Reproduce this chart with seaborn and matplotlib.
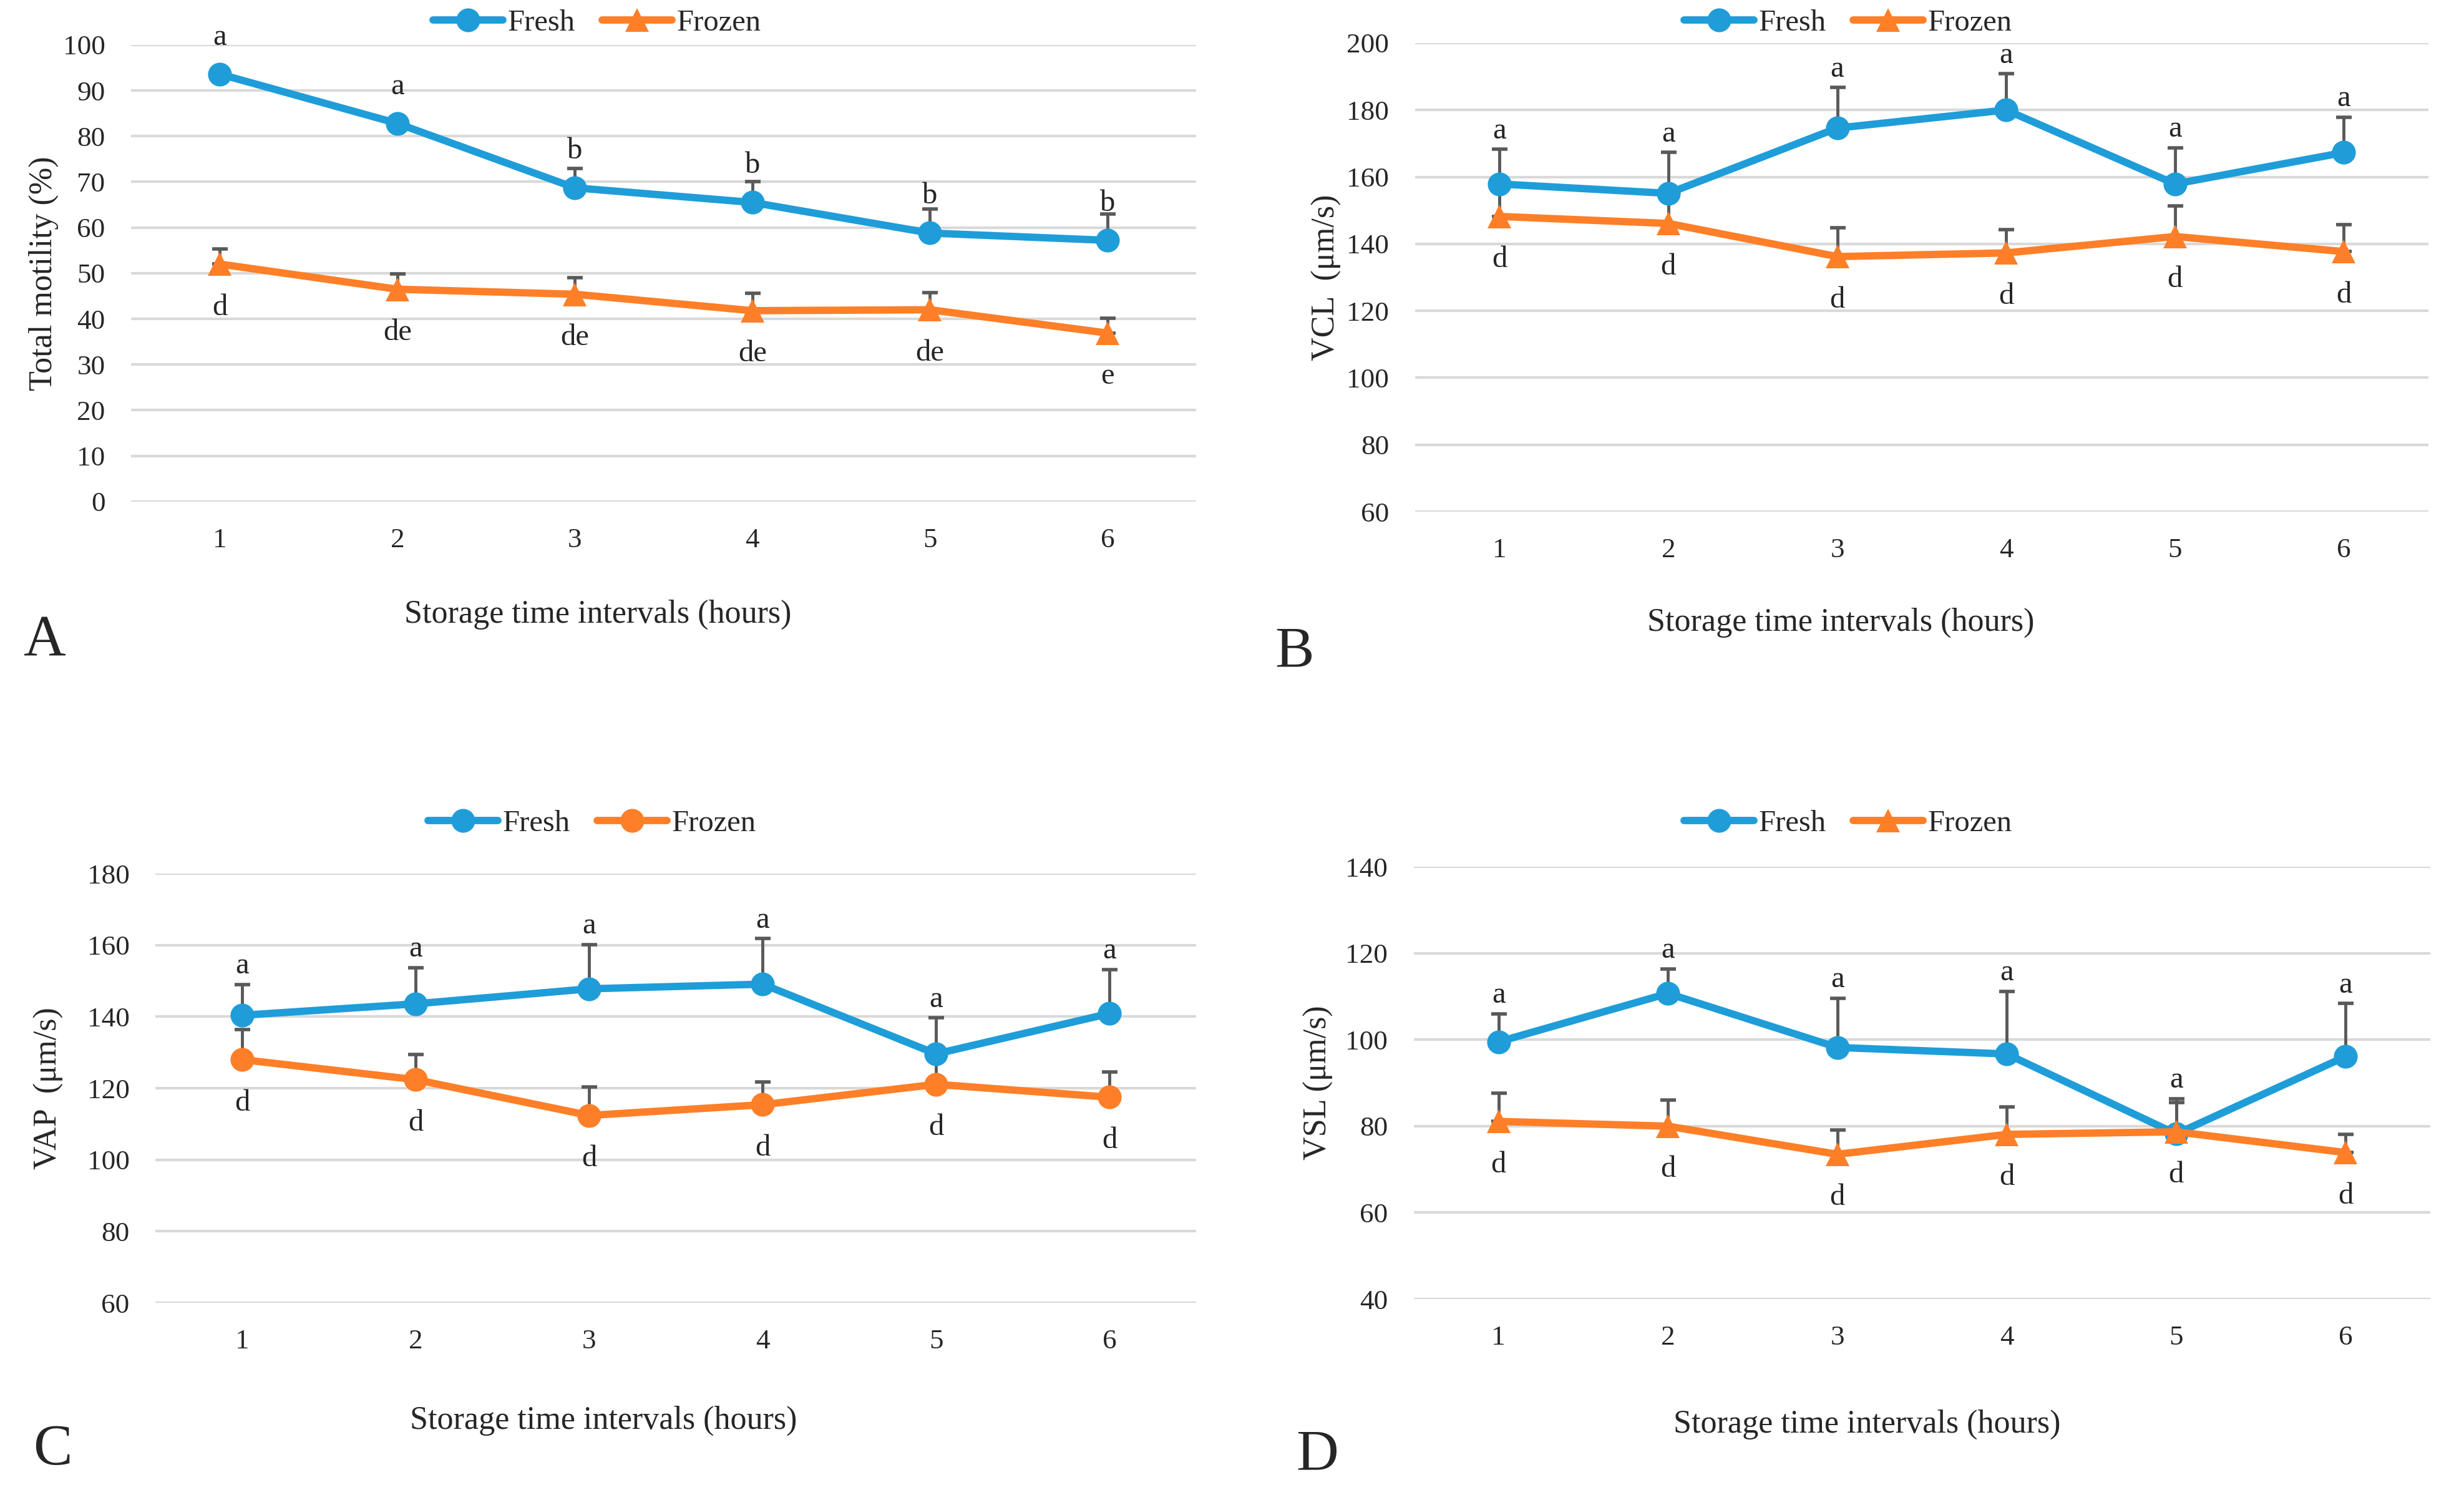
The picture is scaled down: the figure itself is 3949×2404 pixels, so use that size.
import numpy as np
import pandas as pd
import matplotlib.pyplot as plt
import seaborn as sns

# Data: means and upper error bars per storage hour
hours = [1, 2, 3, 4, 5, 6]

motility_fresh = [93.6, 82.8, 68.7, 65.5, 58.8, 57.2]
motility_fresh_err = [1.2, 1.2, 4.2, 4.6, 5.2, 5.7]
motility_frozen = [52.0, 46.5, 45.4, 41.8, 42.0, 36.9]
motility_frozen_err = [3.3, 3.3, 3.6, 3.8, 3.8, 3.3]
motility_fresh_letters = ['a', 'a', 'b', 'b', 'b', 'b']
motility_frozen_letters = ['d', 'de', 'de', 'de', 'de', 'e']

vcl_fresh = [157.9, 155.1, 174.6, 180.0, 157.9, 167.3]
vcl_fresh_err = [10.4, 12.2, 12.1, 10.8, 10.8, 10.6]
vcl_frozen = [148.2, 146.1, 136.2, 137.3, 142.2, 137.7]
vcl_frozen_err = [8.3, 7.9, 8.6, 7.0, 9.1, 8.1]

vap_fresh = [140.4, 143.6, 147.8, 149.1, 129.6, 140.9]
vap_fresh_err = [8.6, 10.1, 12.4, 12.7, 10.1, 12.3]
vap_frozen = [128.0, 122.4, 112.4, 115.4, 121.1, 117.5]
vap_frozen_err = [8.4, 7.1, 8.0, 6.4, 8.0, 7.1]

vsl_fresh = [99.5, 110.7, 98.2, 96.7, 78.2, 96.1]
vsl_fresh_err = [6.5, 5.7, 11.4, 14.5, 8.2, 12.3]
vsl_frozen = [81.1, 80.0, 73.5, 78.1, 78.7, 73.9]
vsl_frozen_err = [6.6, 6.1, 5.6, 6.4, 6.8, 4.2]

velocity_fresh_letters = ['a'] * 6
velocity_frozen_letters = ['d'] * 6

# Style
sns.set_theme(style='white')
plt.rcParams['font.family'] = ['Liberation Serif', 'DejaVu Serif']

blue = '#1F9DD9'
orange = '#FE7F28'
err_color = '#595959'
grid_color = '#D9D9D9'

panels = [
    dict(letter='A', rect=[0.0532, 0.6656, 0.4323, 0.3045],
         fresh=motility_fresh, fresh_err=motility_fresh_err,
         frozen=motility_frozen, frozen_err=motility_frozen_err,
         fresh_letters=motility_fresh_letters, frozen_letters=motility_frozen_letters,
         ylabel='Total motility (%)', yticks=np.arange(0, 101, 10), frozen_marker='^',
         label_from_value=True, legend_xy=(0.2423, 0.9846), xlabel_xy=(0.2426, 0.5903),
         ylabel_xy=(0.0177, 0.8178), letter_xy=(0.0094, 0.5724)),
    dict(letter='B', rect=[0.5743, 0.6589, 0.4112, 0.3124],
         fresh=vcl_fresh, fresh_err=vcl_fresh_err,
         frozen=vcl_frozen, frozen_err=vcl_frozen_err,
         fresh_letters=velocity_fresh_letters, frozen_letters=velocity_frozen_letters,
         ylabel='VCL  (μm/s)', yticks=np.arange(60, 201, 20), frozen_marker='^',
         label_from_value=False, legend_xy=(0.750, 0.9846), xlabel_xy=(0.747, 0.5849),
         ylabel_xy=(0.5384, 0.8149), letter_xy=(0.5173, 0.5649)),
    dict(letter='C', rect=[0.0631, 0.1314, 0.4224, 0.2862],
         fresh=vap_fresh, fresh_err=vap_fresh_err,
         frozen=vap_frozen, frozen_err=vap_frozen_err,
         fresh_letters=velocity_fresh_letters, frozen_letters=velocity_frozen_letters,
         ylabel='VAP  (μm/s)', yticks=np.arange(60, 181, 20), frozen_marker='o',
         label_from_value=False, legend_xy=(0.2403, 0.4509), xlabel_xy=(0.2449, 0.0528),
         ylabel_xy=(0.0198, 0.2745), letter_xy=(0.0134, 0.0329)),
    dict(letter='D', rect=[0.5738, 0.1339, 0.4125, 0.2883],
         fresh=vsl_fresh, fresh_err=vsl_fresh_err,
         frozen=vsl_frozen, frozen_err=vsl_frozen_err,
         fresh_letters=velocity_fresh_letters, frozen_letters=velocity_frozen_letters,
         ylabel='VSL (μm/s)', yticks=np.arange(40, 141, 20), frozen_marker='^',
         label_from_value=False, legend_xy=(0.750, 0.4509), xlabel_xy=(0.7577, 0.0503),
         ylabel_xy=(0.5351, 0.2783), letter_xy=(0.526, 0.0295)),
]

fig = plt.figure(figsize=(15.796, 9.616), dpi=250)

for p in panels:
    ax = fig.add_axes(p['rect'])

    df = pd.DataFrame({
        'Hour': hours + hours,
        'Value': p['fresh'] + p['frozen'],
        'Group': ['Fresh'] * len(hours) + ['Frozen'] * len(hours),
    })
    sns.lineplot(data=df, x='Hour', y='Value', hue='Group', style='Group',
                 palette={'Fresh': blue, 'Frozen': orange},
                 markers={'Fresh': 'o', 'Frozen': p['frozen_marker']}, dashes=False,
                 errorbar=None, legend=False, ax=ax)
    handles = list(ax.get_lines())[:2]
    for line in handles:
        line.set_linewidth(3.4)
        line.set_markersize(11)
        line.set_markeredgewidth(0)

    # upper error bars only, drawn behind the lines
    zeros = np.zeros(len(hours))
    for vals, errs in [(p['fresh'], p['fresh_err']), (p['frozen'], p['frozen_err'])]:
        ax.errorbar(hours, vals, yerr=[zeros, errs], fmt='none', ecolor=err_color,
                    elinewidth=1.4, capsize=3.6, capthick=1.6, zorder=1.5)

    # significance letters
    for h, v, e, t in zip(hours, p['fresh'], p['fresh_err'], p['fresh_letters']):
        if p['label_from_value']:
            ax.annotate(t, xy=(h, v), xytext=(0, 17), textcoords='offset points',
                        ha='center', va='center', fontsize=14)
        else:
            ax.annotate(t, xy=(h, v + e), xytext=(0, 8.5), textcoords='offset points',
                        ha='center', va='center', fontsize=14)
    for h, v, t in zip(hours, p['frozen'], p['frozen_letters']):
        ax.annotate(t, xy=(h, v), xytext=(0, -20), textcoords='offset points',
                    ha='center', va='center', fontsize=14)

    ax.set_xlim(0.5, 6.5)
    ax.set_ylim(p['yticks'][0], p['yticks'][-1])
    ax.set_xticks(hours)
    ax.set_yticks(p['yticks'])
    ax.tick_params(length=0, labelsize=13, pad=12)
    ax.yaxis.grid(True, color=grid_color, linewidth=1.2)
    ax.xaxis.grid(False)
    ax.set_axisbelow(True)
    for s in ax.spines.values():
        s.set_visible(False)

    ax.set_xlabel('Storage time intervals (hours)', fontsize=15, va='center')
    ax.xaxis.set_label_coords(*p['xlabel_xy'], transform=fig.transFigure)
    ax.set_ylabel(p['ylabel'], fontsize=15, va='center')
    ax.yaxis.set_label_coords(*p['ylabel_xy'], transform=fig.transFigure)

    ax.legend(handles, ['Fresh', 'Frozen'], loc='center', bbox_to_anchor=p['legend_xy'],
              bbox_transform=fig.transFigure, ncol=2, frameon=False, fontsize=14,
              handlelength=2.3, handletextpad=0.15, columnspacing=0.9,
              borderaxespad=0, borderpad=0)

    fig.text(p['letter_xy'][0], p['letter_xy'][1], p['letter'], fontsize=27,
             ha='left', va='center')

fig.savefig('out.png', dpi=250)
